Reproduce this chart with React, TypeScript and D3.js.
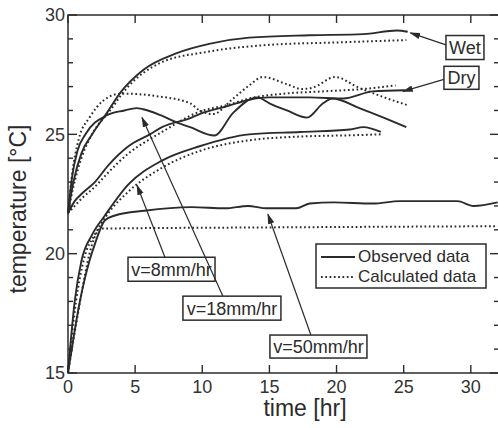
import React from 'react';
import * as d3 from 'd3';

// time [hr], temperature [°C]
const wetObs = [[0, 21.7], [0.4, 23.0], [1.0, 24.2], [1.8, 25.0], [2.9, 25.9], [3.9, 26.75], [5.6, 27.7], [8.1, 28.4], [10.6, 28.8], [13.5, 29.05], [18, 29.15], [22, 29.2], [24.5, 29.35], [25.3, 29.3]];
const wetCalc = [[0, 21.7], [0.4, 22.8], [1.0, 24.0], [2.0, 25.2], [3.0, 25.9], [4.4, 26.95], [6.9, 28.0], [10.3, 28.45], [15, 28.75], [20, 28.85], [25.2, 28.95]];
const dryObs = [[0, 21.7], [0.5, 22.2], [1, 22.5], [2, 23.0], [3, 23.7], [4.5, 24.5], [6.1, 25.0], [7, 25.3], [9.2, 25.7], [9.8, 25.85], [12, 26.2], [13.5, 26.45], [15, 26.55], [18, 26.55], [20.5, 26.5], [22.7, 26.8], [25.1, 26.85]];
const dryCalc = [[0, 21.7], [0.5, 22.0], [1, 22.3], [2, 22.8], [3, 23.4], [4.5, 24.2], [6.1, 24.8], [7, 25.1], [9.8, 25.95], [12, 26.25], [13.5, 26.5], [16, 26.7], [19, 26.8], [22, 26.9], [24.4, 27.05]];
const v18Obs = [[0, 21.7], [0.3, 23.2], [0.7, 24.3], [1.3, 25.0], [2.9, 25.8], [4.2, 26.0], [5.1, 26.1], [5.6, 26.05], [6.9, 25.8], [8.1, 25.5], [9.1, 25.3], [10.9, 24.95], [12.3, 25.9], [14.1, 26.55], [15, 26.3], [16.3, 26.0], [17.8, 25.7], [19, 26.3], [19.7, 26.5], [21.7, 26.1], [23.5, 25.7], [25.2, 25.3]];
const v18Calc = [[0, 21.7], [0.3, 23.3], [0.8, 24.8], [1.6, 25.7], [2.6, 26.4], [3.9, 26.7], [4.4, 26.7], [6.6, 26.6], [9.1, 26.3], [9.8, 26.0], [10.8, 25.85], [12.3, 26.5], [13.5, 27.05], [14.5, 27.4], [16.3, 27.1], [17.4, 26.9], [18.2, 26.95], [19.9, 27.4], [21.6, 26.97], [23.3, 26.6], [25.4, 26.2]];
const v8Obs = [[0, 15], [0.5, 18.0], [1.0, 19.7], [1.8, 20.8], [2.75, 21.6], [4.5, 22.9], [7, 23.9], [9.8, 24.5], [13.5, 25.0], [17.3, 25.1], [21, 25.2], [22, 25.3], [23.3, 25.1]];
const v8Calc = [[0, 15], [0.6, 18.0], [1.2, 19.8], [2, 20.8], [3, 21.7], [4.5, 22.6], [7, 23.6], [9.8, 24.3], [13.5, 24.75], [17, 24.9], [21, 24.96], [23.3, 25.0]];
const v50Obs = [[0, 15], [0.9, 18.05], [1.6, 19.7], [2.0, 20.4], [2.75, 21.4], [3.5, 21.6], [5.7, 21.8], [9.2, 21.95], [11.7, 21.9], [13.4, 22.0], [14.8, 21.9], [17, 21.9], [18, 22.1], [19.8, 22.15], [22.7, 22.1], [24.7, 22.2], [29, 22.2], [30.2, 22.0], [32, 22.15]];
const v50Calc = [[0, 15], [1.0, 18.3], [1.6, 20.0], [2.3, 21.0], [2.5, 21.05], [15, 21.1], [32, 21.15]];

const observed = [wetObs, dryObs, v18Obs, v8Obs, v50Obs];
const calculated = [wetCalc, dryCalc, v18Calc, v8Calc, v50Calc];

const xTicks = [0, 5, 10, 15, 20, 25, 30];
const yTicks = [15, 20, 25, 30];
const yMinor = d3.range(15, 31, 1);

// label text, arrow tip, arrow tail, box top-left (all in data units)
const notes = [
  { text: 'Wet', tip: [25.5, 29.25], tail: [28.15, 28.75], box: [28.15, 29.14], w: 38, h: 24 },
  { text: 'Dry', tip: [24.95, 26.8], tail: [28.0, 27.3], box: [28.0, 27.85], w: 35, h: 23 },
  { text: 'v=8mm/hr', tip: [5.14, 22.87], tail: [7.22, 19.85], box: [4.47, 19.85], w: 87, h: 24 },
  { text: 'v=18mm/hr', tip: [5.51, 25.71], tail: [11.54, 18.22], box: [8.56, 18.22], w: 98, h: 24 },
  { text: 'v=50mm/hr', tip: [14.89, 21.65], tail: [18.09, 16.59], box: [15.04, 16.59], w: 97, h: 23 },
];

const width = 498;
const height = 428;
const margin = { top: 15, right: -1, bottom: 55, left: 68 };
const ink = '#2b2b2b';
const font = '"Liberation Sans", Arial, Helvetica, sans-serif';

export default function App() {
  const x = d3.scaleLinear().domain([0, 32.1]).range([margin.left, width - margin.right]);
  const y = d3.scaleLinear().domain([15, 30]).range([height - margin.bottom, margin.top]);
  const line = d3.line<number[]>()
    .x((d) => x(d[0]))
    .y((d) => y(d[1]))
    .curve(d3.curveMonotoneX);

  const x0 = x(0), x1 = x(32.1), y0 = y(15), y1 = y(30);

  return (
    <svg width={width} height={height} style={{ position: 'absolute', left: 0, top: 0, background: '#fff' }} fontFamily={font}>
      <defs>
        <marker id="head" viewBox="0 0 10 10" refX="9" refY="5" markerWidth="9" markerHeight="9" orient="auto">
          <path d="M0,2 L10,5 L0,8 z" fill={ink} />
        </marker>
      </defs>

      {/* frame */}
      <rect x={x0} y={y1} width={x1 - x0} height={y0 - y1} fill="none" stroke={ink} strokeWidth={1.5} />

      {/* x ticks bottom and top */}
      {xTicks.map((t) => (
        <g key={'xt' + t}>
          <line x1={x(t)} x2={x(t)} y1={y0} y2={y0 - 8} stroke={ink} strokeWidth={1.4} />
          <line x1={x(t)} x2={x(t)} y1={y1} y2={y1 + 8} stroke={ink} strokeWidth={1.4} />
          <text x={x(t)} y={y0 + 20} textAnchor="middle" fontSize={18} fill="#333">{t}</text>
        </g>
      ))}

      {/* y ticks left and right */}
      {yMinor.map((v) => {
        const len = v % 5 === 0 ? 9 : 5;
        return (
          <g key={'ym' + v}>
            <line x1={x0} x2={x0 + len} y1={y(v)} y2={y(v)} stroke={ink} strokeWidth={1.4} />
            <line x1={x1} x2={x1 - len} y1={y(v)} y2={y(v)} stroke={ink} strokeWidth={1.4} />
          </g>
        );
      })}
      {yTicks.map((v) => (
        <text key={'yl' + v} x={x0 - 3} y={y(v)} dy="0.36em" textAnchor="end" fontSize={18} fill="#333">{v}</text>
      ))}

      {/* axis titles */}
      <text x={305} y={416} textAnchor="middle" fontSize={23} fill="#2b2b2b">time [hr]</text>
      <text transform={`translate(26,209) rotate(-90)`} textAnchor="middle" fontSize={23} fill="#2b2b2b">temperature [°C]</text>

      {/* series */}
      {observed.map((s, i) => (
        <path key={'o' + i} d={line(s) || ''} fill="none" stroke={ink} strokeWidth={1.9} />
      ))}
      {calculated.map((s, i) => (
        <path key={'c' + i} d={line(s) || ''} fill="none" stroke={ink} strokeWidth={2} strokeDasharray="1.7 2.6" />
      ))}

      {/* annotations */}
      {notes.map((n) => (
        <g key={n.text}>
          <line x1={x(n.tail[0])} y1={y(n.tail[1])} x2={x(n.tip[0])} y2={y(n.tip[1])} stroke={ink} strokeWidth={1.2} markerEnd="url(#head)" />
          <rect x={x(n.box[0])} y={y(n.box[1])} width={n.w} height={n.h} fill="#fff" stroke={ink} strokeWidth={1.5} />
          <text x={x(n.box[0]) + n.w / 2} y={y(n.box[1]) + n.h / 2} dy="0.36em" textAnchor="middle" fontSize={18} fill="#2b2b2b">{n.text}</text>
        </g>
      ))}

      {/* legend */}
      <g>
        <rect x={316} y={244} width={170} height={44} fill="#fff" stroke={ink} strokeWidth={1.5} />
        <line x1={321} x2={355} y1={257} y2={257} stroke={ink} strokeWidth={1.9} />
        <line x1={321} x2={355} y1={277} y2={277} stroke={ink} strokeWidth={2} strokeDasharray="1.7 2.6" />
        <text x={358} y={262} fontSize={17} fill="#2b2b2b">Observed data</text>
        <text x={358} y={282} fontSize={17} fill="#2b2b2b">Calculated data</text>
      </g>
    </svg>
  );
}
